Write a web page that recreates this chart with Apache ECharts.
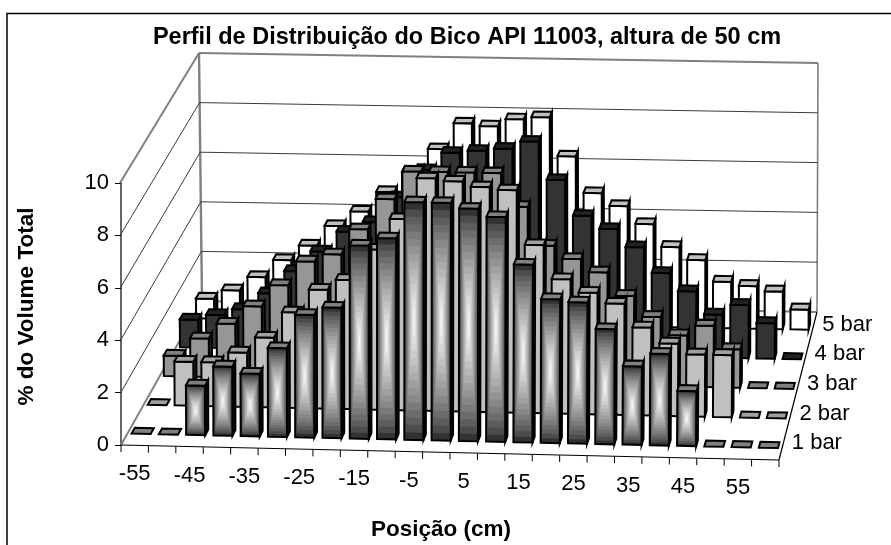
<!DOCTYPE html>
<html>
<head>
<meta charset="utf-8">
<style>
html, body { margin: 0; padding: 0; background: #fff; }
#main { width: 891px; height: 545px; }
</style>
<script src="https://cdn.jsdelivr.net/npm/echarts@6/dist/echarts.min.js"></script>
</head>
<body>
<div id="main"></div>
<script>
//categorias do eixo x (posicao em cm)
var categories = ['-55','-50','-45','-40','-35','-30','-25','-20','-15','-10','-5','0','5','10','15','20','25','30','35','40','45','50','55','60'];
var yTicks = [0, 2, 4, 6, 8, 10];
var rowNames = ['1 bar', '2 bar', '3 bar', '4 bar', '5 bar'];
//valores (% do volume total)
var bar1 = [0,0,1.9,2.65,2.4,3.4,4.7,5.0,7.4,7.7,9.1,9.1,8.9,8.6,6.8,5.5,5.4,4.4,3.0,3.5,2.1,0,0,0];
var bar2 = [0,1.7,1.7,2.1,2.7,3.7,4.6,5.0,6.2,7.4,9.0,8.9,8.7,8.6,6.5,5.2,4.7,4.3,3.4,2.8,2.4,2.4,0,0];
var bar3 = [0.8,1.5,2.1,2.8,3.65,4.6,4.9,5.9,7.1,8.2,8.2,8.2,8.2,6.9,5.4,4.9,4.4,3.5,2.7,2.0,2.4,1.5,0,0];
var bar4 = [1.1,1.3,1.55,2.2,3.1,3.9,4.7,5.1,6.1,7.2,7.9,8.0,8.1,8.4,6.9,5.5,5.0,4.3,3.3,2.6,1.7,2.1,1.4,0];
var bar5 = [0.8,1.15,1.7,2.4,3.0,3.8,4.4,5.2,6.0,6.95,8.0,7.9,8.2,8.3,6.75,5.3,4.8,4.1,3.2,2.7,1.85,1.7,1.5,0.8];

//layout da caixa 3D
var gridLeft = 121, gridRight = 779, gridTop = 183, gridBottom = 445;
var floorFL = [121, 445], floorFR = [779, 460], floorBL = [202, 301], floorBR = [817, 312];
var topFL = [120, 183], topFR = [781, 197], topBL = [199, 53], topBR = [818, 63];
var barDepth = 0.04, barWidth = 0.7;

function lerp(a, b, t) {
    return [a[0] + (b[0] - a[0]) * t, a[1] + (b[1] - a[1]) * t];
}

//u: ao longo do eixo x, d: profundidade, h: altura (todos de 0 a 1)
function project(u, d, h) {
    var low = lerp(lerp(floorFL, floorFR, u), lerp(floorBL, floorBR, u), d);
    var high = lerp(lerp(topFL, topFR, u), lerp(topBL, topBR, u), d);
    return lerp(low, high, h);
}

//converte o ponto do grid (plano frontal) para o desenho em perspectiva
function fromGrid(pt, d) {
    var u = (pt[0] - gridLeft) / (gridRight - gridLeft);
    var h = (gridBottom - pt[1]) / (gridBottom - gridTop);
    return project(u, d, h);
}

function poly(points, fill, stroke, lineWidth) {
    return {
        type: 'polygon',
        shape: { points: points },
        style: { fill: fill, stroke: stroke, lineWidth: lineWidth === undefined ? 2 : lineWidth, lineJoin: 'miter' }
    };
}

function line(a, b, color, width) {
    return {
        type: 'line',
        shape: { x1: a[0], y1: a[1], x2: b[0], y2: b[1] },
        style: { stroke: color, lineWidth: width }
    };
}

//faixa de cinza do gradiente retangular da serie de 1 bar
function bandColor(t) {
    var v = Math.round(50 + 195 * Math.pow(t, 0.75));
    return 'rgb(' + v + ',' + v + ',' + v + ')';
}

//desenha uma barra 3D
function renderBar(row, colors) {
    return function(params, api) {
        var value = api.value(1);
        var idx = api.value(0);
        var d = (row + 0.5) / rowNames.length;
        var d0 = d - barDepth / 2, d1 = d + barDepth / 2;
        var center = api.coord([idx, 0]);
        var topPt = api.coord([idx, value]);
        var w = api.size([1, 0])[0] * barWidth / 2;
        var xl = center[0] - w, xr = center[0] + w;
        var y0 = center[1], y1 = topPt[1];
        var children = [];
        if (value > 0) {
            //lateral
            children.push(poly([
                fromGrid([xr, y0], d0), fromGrid([xr, y0], d1),
                fromGrid([xr, y1], d1), fromGrid([xr, y1], d0)
            ], colors.side, '#000'));
            //frente
            if (colors.front) {
                children.push(poly([
                    fromGrid([xl, y0], d0), fromGrid([xr, y0], d0),
                    fromGrid([xr, y1], d0), fromGrid([xl, y1], d0)
                ], colors.front, '#000'));
            } else {
                var n = 16, cx = center[0], cy = (y0 + y1) / 2;
                for (var k = 0; k < n; k++) {
                    var s = 1 - k / n;
                    var hw = w * s, hh = (y0 - y1) / 2 * s;
                    children.push(poly([
                        fromGrid([cx - hw, cy + hh], d0), fromGrid([cx + hw, cy + hh], d0),
                        fromGrid([cx + hw, cy - hh], d0), fromGrid([cx - hw, cy - hh], d0)
                    ], bandColor(k / (n - 1)), 'none', 0));
                }
                children.push(poly([
                    fromGrid([xl, y0], d0), fromGrid([xr, y0], d0),
                    fromGrid([xr, y1], d0), fromGrid([xl, y1], d0)
                ], 'none', '#000'));
            }
        }
        //topo
        children.push(poly([
            fromGrid([xl, y1], d0), fromGrid([xr, y1], d0),
            fromGrid([xr, y1], d1), fromGrid([xl, y1], d1)
        ], colors.top, '#000'));
        return { type: 'group', children: children };
    };
}

//paredes e linhas de grade
function renderWalls(params, api) {
    var tick = api.value(0);
    var pt = api.coord([0, tick]);
    var h = (gridBottom - pt[1]) / (gridBottom - gridTop);
    var isEdge = tick === yTicks[0] || tick === yTicks[yTicks.length - 1];
    var color = isEdge ? '#808080' : '#3a3a3a';
    var width = isEdge ? 2 : 1;
    var children = [
        line(project(0, 0, h), project(0, 1, h), color, width),
        line(project(0, 1, h), project(1, 1, h), color, width)
    ];
    if (tick === yTicks[0]) {
        children.push(line(project(0, 1, 0), project(0, 1, 1), '#808080', 2.4));
        children.push(line(project(1, 1, 0), project(1, 1, 1), '#808080', 1.6));
        children.push(line(project(0, 0, 0), project(1, 0, 0), '#000', 1.2));
        children.push(line(project(1, 0, 0), project(1, 1, 0), '#000', 1.2));
    }
    return { type: 'group', children: children };
}

//marcas e rotulos do eixo x
function renderXTicks(params, api) {
    var idx = api.value(0);
    var c = api.coord([idx, 0]);
    var half = api.size([1, 0])[0] / 2;
    var a = fromGrid([c[0] - half, c[1]], 0);
    var mid = fromGrid([c[0], c[1]], 0);
    var children = [line(a, [a[0], a[1] + 7], '#000', 1)];
    if (idx === categories.length - 1) {
        var b = fromGrid([c[0] + half, c[1]], 0);
        children.push(line(b, [b[0], b[1] + 7], '#000', 1));
    }
    if (idx % 2 === 0) {
        children.push({
            type: 'text',
            style: {
                x: mid[0], y: mid[1] + 29, text: categories[idx],
                fill: '#000', font: '22px "Liberation Sans"', align: 'center', verticalAlign: 'middle'
            }
        });
    }
    return { type: 'group', children: children };
}

//rotulos de profundidade
function renderRowLabels(params, api) {
    var row = api.value(0);
    var p = project(1, (row + 0.5) / rowNames.length, 0);
    return {
        type: 'text',
        style: {
            x: p[0] + 9, y: p[1] - 2, text: rowNames[row],
            fill: '#000', font: '22px "Liberation Sans"', align: 'left', verticalAlign: 'middle'
        }
    };
}

function barData(values) {
    var out = [];
    for (var i = 0; i < values.length; i++) {
        out.push([i, values[i]]);
    }
    return out;
}

function barSeries(name, row, values, colors) {
    return {
        type: 'custom',
        name: name,
        coordinateSystem: 'cartesian2d',
        renderItem: renderBar(row, colors),
        data: barData(values),
        clip: false,
        silent: true,
        animation: false,
        z: 10 + (rowNames.length - row)
    };
}

function helperSeries(renderItem, data, z) {
    return {
        type: 'custom',
        coordinateSystem: 'cartesian2d',
        renderItem: renderItem,
        data: data,
        encode: { x: 0, y: -1 },
        clip: false,
        silent: true,
        animation: false,
        z: z
    };
}

var myChart = echarts.init(document.getElementById('main'), null, { renderer: 'canvas' });
var option = {
    animation: false,
    backgroundColor: '#fff',
    title: {
        text: 'Perfil de Distribuição do Bico API 11003, altura de 50 cm',
        left: 462,
        top: 21,
        textAlign: 'center',
        textStyle: { fontFamily: 'Liberation Sans', fontWeight: 'bold', fontSize: 23.5, color: '#000' }
    },
    graphic: [{
        type: 'rect',
        shape: { x: 7, y: 13.5, width: 900, height: 560 },
        style: { fill: 'none', stroke: '#000', lineWidth: 1.5 },
        z: -1
    }],
    grid: {
        left: gridLeft,
        top: gridTop,
        width: gridRight - gridLeft,
        height: gridBottom - gridTop,
        outerBoundsMode: 'none'
    },
    xAxis: {
        type: 'category',
        data: categories,
        axisLine: { show: false },
        axisTick: { show: false },
        axisLabel: { show: false },
        splitLine: { show: false },
        name: 'Posição (cm)',
        nameLocation: 'middle',
        nameGap: 73,
        nameTextStyle: { fontFamily: 'Liberation Sans', fontWeight: 'bold', fontSize: 22.5, color: '#000', padding: [0, 18, 0, 0] }
    },
    yAxis: {
        type: 'value',
        min: 0,
        max: 10,
        interval: 2,
        axisLine: { show: true, lineStyle: { color: '#333', width: 1.5 } },
        axisTick: { show: true, length: 6, lineStyle: { color: '#000' } },
        axisLabel: { fontFamily: 'Liberation Sans', fontSize: 22, color: '#000', margin: 12 },
        splitLine: { show: false },
        name: '% do Volume Total',
        nameLocation: 'middle',
        nameGap: 83,
        nameTextStyle: { fontFamily: 'Liberation Sans', fontWeight: 'bold', fontSize: 22.5, color: '#000', padding: [0, 0, 0, 15] }
    },
    series: [
        helperSeries(renderWalls, yTicks.map(function(v) { return [v]; }), 1),
        barSeries(rowNames[4], 4, bar5, { front: '#ffffff', side: '#1a1a1a', top: '#c0c0c0' }),
        barSeries(rowNames[3], 3, bar4, { front: '#333333', side: '#111111', top: '#222222' }),
        barSeries(rowNames[2], 2, bar3, { front: '#969696', side: '#222222', top: '#808080' }),
        barSeries(rowNames[1], 1, bar2, { front: '#c0c0c0', side: '#222222', top: '#a0a0a0' }),
        barSeries(rowNames[0], 0, bar1, { front: null, side: '#111111', top: '#808080' }),
        helperSeries(renderXTicks, categories.map(function(c, i) { return [i]; }), 30),
        helperSeries(renderRowLabels, rowNames.map(function(r, i) { return [i]; }), 30)
    ]
};
myChart.setOption(option);
</script>
</body>
</html>
